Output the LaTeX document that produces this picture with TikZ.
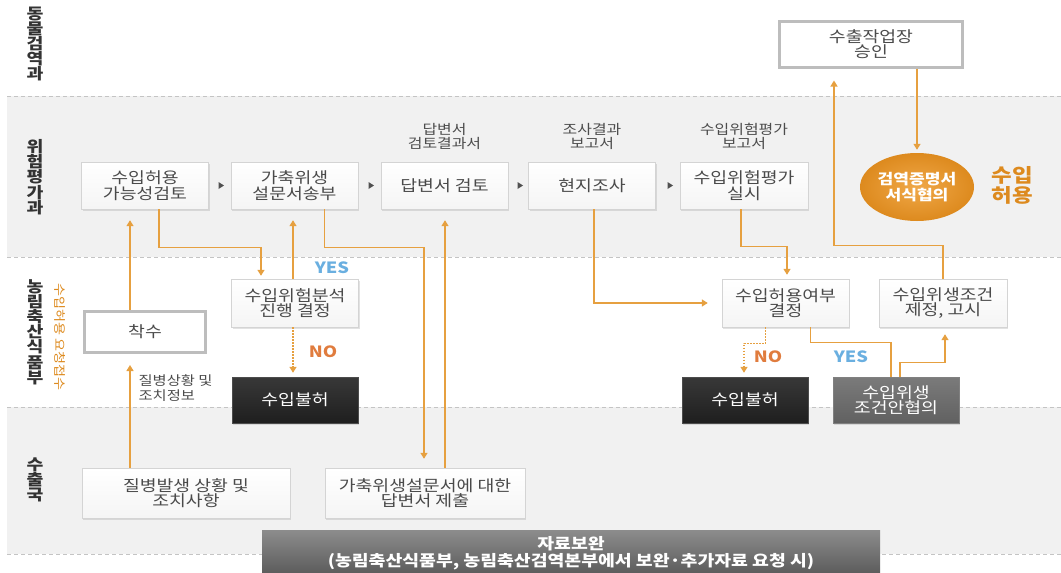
\documentclass[tikz,border=0pt]{standalone}
\usepackage{fontspec}
\setmainfont{Noto Sans CJK KR}[FakeStretch=1.18]
\usetikzlibrary{arrows.meta,shapes.geometric,shadows}
\definecolor{bandgrey}{HTML}{F1F1F1}
\definecolor{dashc}{HTML}{C4C4C4}
\definecolor{boxline}{HTML}{D4D4D4}
\definecolor{txt}{HTML}{4A4A4A}
\definecolor{org}{HTML}{E6A040}
\definecolor{orgdark}{HTML}{DD8A1E}
\definecolor{orglight}{HTML}{F0A848}
\definecolor{yesblue}{HTML}{6AAFE0}
\definecolor{noorg}{HTML}{E07C3E}
\definecolor{framec}{HTML}{BDBDBD}
\definecolor{markc}{HTML}{505050}
\begin{document}
\begin{tikzpicture}[x=1pt,y=-1pt,
  boxbase/.style={rectangle, inner sep=0pt, align=center, font=\fontsize{15.5}{15.5}\selectfont,
    drop shadow={shadow xshift=1pt, shadow yshift=-1.5pt, opacity=0.25, fill=black!45}},
  box/.style={boxbase, draw=boxline, top color=white, bottom color=black!4, text=txt,
    minimum width=127pt, minimum height=47pt},
  framebox/.style={boxbase, draw=framec, line width=3pt, fill=white, text=txt},
  darkbox/.style={boxbase, draw=black!70, top color=black!78, bottom color=black!88, text=white,
    minimum width=126pt, minimum height=46pt},
  greybox/.style={boxbase, draw=black!50, top color=black!52, bottom color=black!62, text=white,
    minimum width=126pt, minimum height=46pt},
  side/.style={align=center, font=\bfseries\fontsize{15.5}{15.2}\selectfont, text=black!80},
  captext/.style={align=center, font=\fontsize{13.5}{14}\selectfont, text=black!70},
  conn/.style={draw=org, line width=1.3pt},
  arr/.style={conn, -{Triangle[width=7pt,length=6pt]}},
  dotarr/.style={arr, dash pattern=on 1.5pt off 1.5pt},
  yeslab/.style={font=\bfseries\fontsize{15.5}{15.5}\selectfont, text=yesblue},
  nolab/.style={font=\bfseries\fontsize{15.5}{15.5}\selectfont, text=noorg},
  dashline/.style={draw=dashc, line width=0.6pt, dash pattern=on 4pt off 3pt}
]
\useasboundingbox (0,0) rectangle (1061,573);
% bands
\fill[bandgrey] (7,96) rectangle (1061,257);
\fill[bandgrey] (7,407) rectangle (1061,554);
\draw[dashline] (7,96) -- (1061,96);
\draw[dashline] (7,257) -- (1061,257);
\draw[dashline] (7,407) -- (1061,407);
\draw[dashline] (7,554) -- (1061,554);

% side labels
\node[side] (s1) at (35,44) {동\\물\\검\\역\\과};
\node[side] (s2) at (35,177) {위\\험\\평\\가\\과};
\node[side] (s3) at (35,332) {농\\림\\축\\산\\식\\품\\부};
\node[side] (s4) at (35,480) {수\\출\\국};
\node[rotate=-90, font=\fontsize{12}{12}\selectfont, text=orgdark] (s5) at (60,337) {수입허용 요청접수};

% row 1
\node[box] (b1) at (145,185.5) {수입허용\\가능성검토};
\node[box] (b2) at (294.5,185.5) {가축위생\\설문서송부};
\node[box] (b3) at (444.5,185.5) {답변서 검토};
\node[box] (b4) at (592,185.5) {현지조사};
\node[box, minimum width=128pt] (b5) at (744,185.5) {수입위험평가\\실시};
\node[captext] (c3) at (444.5,136) {답변서\\검토결과서};
\node[captext] (c4) at (592,136) {조사결과\\보고서};
\node[captext] (c5) at (744,136) {수입위험평가\\보고서};
\foreach \x in {221,371,520,670}
  \fill[markc] (\x-2.5,182) -- (\x+3,185.5) -- (\x-2.5,189) -- cycle;

% top
\node[framebox, minimum width=183pt, minimum height=46pt] (ap) at (871,44) {수출작업장\\승인};
\node[ellipse, inner sep=0pt, minimum width=114pt, minimum height=68pt, inner color=orglight, outer color=orgdark,
  text=white, align=center, font=\bfseries\fontsize{14.5}{16}\selectfont] (circ) at (917,187) {검역증명서\\서식협의};
\node[align=center, font=\bfseries\fontsize{19}{20}\selectfont, text=orgdark] (ok) at (1012,185) {수입\\허용};

% row 2
\node[framebox, minimum width=121pt, minimum height=41pt] (chak) at (145,332) {착수};
\node[box, minimum height=48pt] (d1) at (295,303) {수입위험분석\\진행 결정};
\node[darkbox] (r1) at (295,400) {수입불허};
\node[box, minimum height=48pt] (d2) at (785.5,303) {수입허용여부\\결정};
\node[box, minimum width=128pt, minimum height=48pt] (cond) at (943,303) {수입위생조건\\제정, 고시};
\node[darkbox] (r2) at (745,400) {수입불허};
\node[greybox] (neg) at (896,400) {수입위생\\조건안협의};

% row 3
\node[box, minimum width=208pt, minimum height=50pt] (dis) at (186,493) {질병발생 상황 및\\조치사항};
\node[box, minimum width=200pt, minimum height=50pt] (ans) at (425,493) {가축위생설문서에 대한\\답변서 제출};
\node[rectangle, inner sep=0pt, minimum width=618pt, minimum height=46pt, top color=black!45, bottom color=black!65,
  text=white, align=center, font=\bfseries\fontsize{15.5}{17.5}\selectfont] (sup) at (571,553)
  {자료보완\\(농림축산식품부, 농림축산검역본부에서 보완·추가자료 요청 시)};

\node[anchor=west, align=left, font=\fontsize{13}{15}\selectfont, text=black!70] (lab) at (135,388) {질병상황 및\\조치정보};

% connectors
\draw[arr] ([xshift=-15pt]chak.north) -- ([xshift=-15pt,yshift=-11pt]b1.south);
\draw[arr] ([xshift=-56pt]dis.north) -- ([xshift=-15pt,yshift=-11pt]chak.south);
\draw[arr] ([xshift=14pt]b1.south) -- ++(0,38) -| ([xshift=-34pt,yshift=3pt]d1.north);
\draw[arr] ([xshift=-2pt]d1.north) -- ([xshift=-1.5pt,yshift=-11pt]b2.south);
\node[yeslab] (y1) at (332,268) {YES};
\draw[dotarr] ([xshift=-2pt]d1.south) -- ([xshift=-2pt,yshift=4pt]r1.north);
\node[nolab] (n1) at (323,352) {NO};
\draw[arr] ([xshift=30pt]b2.south) -- ++(0,38) -| ([xshift=-1pt,yshift=9pt]ans.north);
\draw[arr] ([xshift=20pt]ans.north) -- ([xshift=0.5pt,yshift=-11pt]b3.south);
\draw[arr] ([xshift=2pt]b4.south) |- ([xshift=-14pt]d2.west);
\draw[arr] ([xshift=-3pt]b5.south) -- ++(0,37.5) -| ([xshift=1.5pt,yshift=4pt]d2.north);
\draw[dotarr] ([xshift=-20pt]d2.south) -- ++(0,16) -| ([xshift=-1pt,yshift=4pt]r2.north);
\node[nolab] (n2) at (768,357) {NO};
\draw[conn] ([xshift=25pt]d2.south) -- ++(0,15) -| ([xshift=-5pt]neg.north);
\node[yeslab] (y2) at (851,357) {YES};
\draw[arr] ([xshift=4pt]neg.north) -- ++(0,-14) -| ([xshift=2pt,yshift=-7pt]cond.south);
\draw[arr] (cond.north) -- ++(0,-33) -| ([xshift=-37pt,yshift=-12pt]ap.south);
\draw[arr] ([xshift=46pt]ap.south) -- ([yshift=3pt]circ.north);
\end{tikzpicture}
\end{document}
